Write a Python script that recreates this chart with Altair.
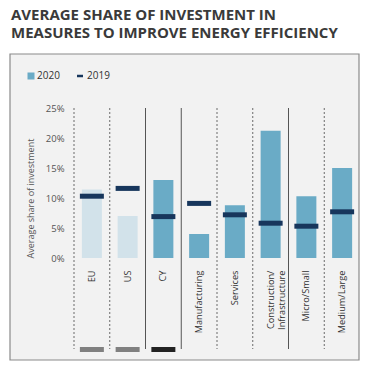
import altair as alt
import pandas as pd

categories = ["EU", "US", "CY", "Manufacturing", "Services",
              "Construction/Infrastructure", "Micro/Small", "Medium/Large"]
kind = ["bench", "bench", "cy", "cy", "cy", "cy", "cy", "cy"]
v2020 = [11.4, 7.0, 13.0, 4.0, 8.8, 21.2, 10.3, 15.0]
v2019 = [10.3, 11.6, 6.9, 9.1, 7.2, 5.8, 5.3, 7.7]
sep_style = ["dash", "dash", "solid", "solid", "dash", "dash", "solid", "dash"]
bottom_cats = ["EU", "US", "CY"]
title_lines = ["AVERAGE SHARE OF INVESTMENT IN", "MEASURES TO IMPROVE ENERGY EFFICIENCY"]
y_ticks = [0, 5, 10, 15, 20, 25]

df = pd.DataFrame({"cat": categories, "kind": kind, "v2020": v2020, "v2019": v2019,
                   "sep": sep_style})
bdf = pd.DataFrame({"cat": bottom_cats})

FONT = "Open Sans"
xscale = alt.Scale(domain=categories, paddingInner=0, paddingOuter=0)
yscale = alt.Scale(domain=[0, 25], nice=False)

xaxis = alt.Axis(labelAngle=-90, labelAlign="right", labelBaseline="middle",
                 labelPadding=12, ticks=False, domain=False, labelFont=FONT,
                 labelFontSize=9.2, labelColor="#333333", zindex=2, labelOverlap=False,
                 title=None,
                 labelExpr="datum.label == 'Construction/Infrastructure' ? ['Construction/', 'Infrastructure'] : datum.label")
yaxis = alt.Axis(values=y_ticks, tickCount=6, labelExpr="datum.value + '%'", grid=False, ticks=False,
                 domain=False, labelPadding=10, labelFont=FONT, labelFontSize=9.5,
                 labelColor="#555555", labelOverlap=False, title="Average share of investment",
                 titleFont=FONT, titleFontSize=9, titleFontWeight="normal",
                 titleColor="#555555", titleX=-44, titleY=90, titleAngle=-90,
                 titleAlign="center", titleBaseline="middle", zindex=2)

panel = alt.Chart(pd.DataFrame({"a": [0]})).mark_rect(
    fill="#f2f2f2", stroke="#8a8a8a", strokeWidth=1.2
).encode(x=alt.value(-64), x2=alt.value(285), y=alt.value(-54), y2=alt.value(252))

def title_line(txt, y):
    return alt.Chart(pd.DataFrame({"t": [txt]})).mark_text(
        align="left", baseline="alphabetic", font=FONT, fontSize=15, fontWeight="bold",
        color="#3a3a3a"
    ).encode(x=alt.value(-63), y=alt.value(y), text="t:N")

title1 = title_line(title_lines[0], -88.5)
title2 = title_line(title_lines[1], -70.5)

leg_sq = alt.Chart(pd.DataFrame({"a": [0]})).mark_square(size=49, color="#6aabc6", opacity=1).encode(
    x=alt.value(-43), y=alt.value(-32))
leg_t1 = alt.Chart(pd.DataFrame({"t": ["2020"]})).mark_text(
    align="left", baseline="middle", font=FONT, fontSize=10, color="#333333"
).encode(x=alt.value(-37), y=alt.value(-32), text="t:N")
leg_dash = alt.Chart(pd.DataFrame({"a": [0]})).mark_rule(color="#17365c", strokeWidth=2.5).encode(
    x=alt.value(3), x2=alt.value(9), y=alt.value(-32))
leg_t2 = alt.Chart(pd.DataFrame({"t": ["2019"]})).mark_text(
    align="left", baseline="middle", font=FONT, fontSize=10, color="#333333"
).encode(x=alt.value(13), y=alt.value(-32), text="t:N")

seps_dash = alt.Chart(df).transform_filter("datum.sep == 'dash'").mark_rule(
    strokeWidth=1, strokeDash=[2, 2], color="#6a6a6a").encode(
    x=alt.X("cat:N", scale=xscale, bandPosition=0, axis=xaxis),
    y=alt.value(0), y2=alt.value(241),
)
seps_solid = alt.Chart(df).transform_filter("datum.sep == 'solid'").mark_rule(
    strokeWidth=1, color="#555555").encode(
    x=alt.X("cat:N", scale=xscale, bandPosition=0, axis=xaxis),
    y=alt.value(0), y2=alt.value(241),
)

bars = alt.Chart(df).mark_bar(size=20).encode(
    x=alt.X("cat:N", scale=xscale, axis=xaxis),
    y=alt.Y("v2020:Q", scale=yscale, axis=yaxis),
    color=alt.Color("kind:N", scale=alt.Scale(domain=["bench", "cy"], range=["#d2e2ea", "#6aabc6"]), legend=None),
)

ticks = alt.Chart(df).mark_tick(size=24, thickness=5, color="#17365c", opacity=1).encode(
    x=alt.X("cat:N", scale=xscale, axis=xaxis),
    y=alt.Y("v2019:Q", scale=yscale, axis=yaxis),
)

bottom = alt.Chart(bdf).mark_bar(size=24).encode(
    x=alt.X("cat:N", scale=xscale, axis=xaxis),
    y=alt.value(239), y2=alt.value(244),
    color=alt.condition("datum.cat == 'CY'", alt.value("#222222"), alt.value("#808080")),
)

chart = alt.layer(panel, title1, title2, leg_sq, leg_t1, leg_dash, leg_t2,
                  seps_dash, seps_solid, bars, ticks, bottom).properties(
    width=286, height=150,
    autosize=alt.AutoSizeParams(type="none"),
    padding={"left": 66, "top": 100, "right": 0, "bottom": 105},
    background="white",
).configure_view(stroke=None)

chart.save("out.html", embed_options={"renderer": "svg", "actions": False})
